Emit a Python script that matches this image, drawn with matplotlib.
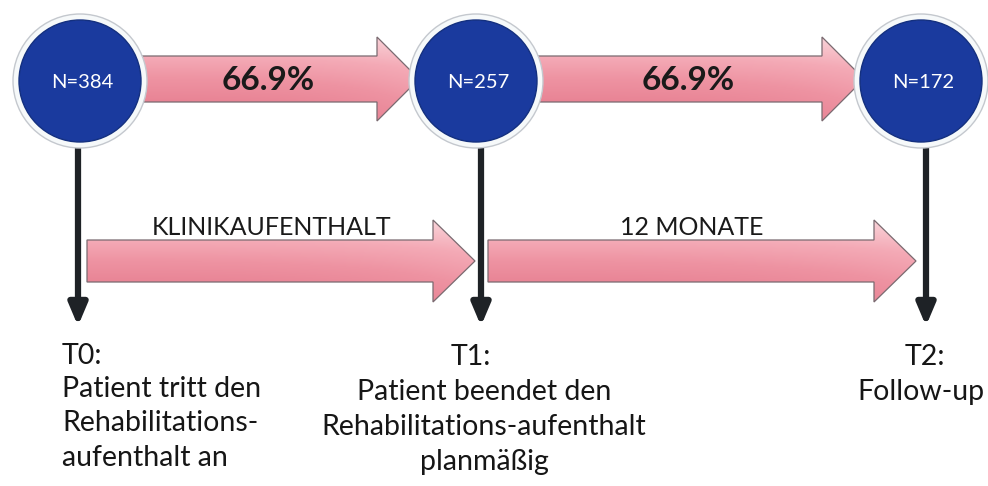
import numpy as np
import matplotlib
matplotlib.use("Agg")
import matplotlib.pyplot as plt
from matplotlib.patches import Polygon, Ellipse
from matplotlib.colors import LinearSegmentedColormap

# ---- data ----
sample_sizes = [384, 257, 172]
transition_rates = ["66.9%", "66.9%"]
phase_labels = ["KLINIKAUFENTHALT", "12 MONATE"]
time_labels = ["T0:", "T1:", "T2:"]
time_descriptions = [
    ["Patient tritt den", "Rehabilitations-", "aufenthalt an"],
    ["Patient beendet den", "Rehabilitations-aufenthalt", "planmäßig"],
    ["Follow-up"],
]

# ---- layout (pixel coordinates) ----
W, H = 988, 486
node_x = [80, 476, 921]
node_y = 81
node_r = 61

FONT = ["Lato", "DejaVu Sans"]
plt.rcParams["font.family"] = FONT

fig = plt.figure(figsize=(W / 100, H / 100), dpi=100)
ax = fig.add_axes([0, 0, 1, 1])
ax.set_xlim(0, W)
ax.set_ylim(H, 0)
ax.axis("off")

pink = LinearSegmentedColormap.from_list(
    "pink", ["#f9d3d9", "#f4aab6", "#ee93a2", "#e98596", "#dc6f80"])


def h_arrow(x0, x1, yc, shaft_half, head_half, head_len, z=2):
    pts = [(x0, yc - shaft_half), (x1 - head_len, yc - shaft_half),
           (x1 - head_len, yc - head_half), (x1, yc),
           (x1 - head_len, yc + head_half), (x1 - head_len, yc + shaft_half),
           (x0, yc + shaft_half)]
    poly = Polygon(pts, closed=True, facecolor="none", edgecolor="#7a6a70",
                   lw=0.9, zorder=z + 1)
    ax.add_patch(poly)
    grad = np.linspace(0, 1, 100).reshape(-1, 1)
    horiz = np.linspace(0, 1, 200).reshape(1, -1)
    img = grad * (1 - 0.4 * horiz ** 3)
    im = ax.imshow(img, cmap=pink, vmin=0, vmax=1, aspect="auto",
                   extent=(x0, x1, yc + head_half, yc - head_half),
                   zorder=z, interpolation="bilinear")
    clip = Polygon(pts, closed=True, transform=ax.transData)
    im.set_clip_path(clip)


# top arrows between nodes
for i, rate in enumerate(transition_rates):
    x0 = node_x[i] + node_r - 2
    x1 = node_x[i + 1] - node_r + 4
    h_arrow(x0, x1, 79, 23, 42, 42, z=2)
    ax.text((x0 + x1 - 42) / 2 + 10, 80, rate, fontsize=24, fontweight="bold",
            color="#1a1a1a", ha="center", va="center", zorder=6)

# middle arrows
mid = [(87, 475), (488, 916)]
for (x0, x1), lab, cx in zip(mid, phase_labels, [272, 692]):
    h_arrow(x0, x1, 261, 21, 41, 42, z=2)
    ax.text(cx, 227, lab, fontsize=18, color="#1a1a1a", ha="center",
            va="center", zorder=6)

# nodes
for x, n in zip(node_x, sample_sizes):
    ring = Ellipse((x, node_y), 2 * node_r + 12, 2 * node_r + 12,
                   facecolor="#f6f9fa", edgecolor="#c4c8ce", lw=1.0, zorder=7)
    ax.add_patch(ring)
    c = Ellipse((x, node_y), 2 * node_r, 2 * node_r,
                facecolor="#1a3a9e", edgecolor="#14307f", lw=1, zorder=8)
    ax.add_patch(c)
    ax.text(x + 2, node_y + 1, f"N={n}", fontsize=14.5, color="white",
            ha="center", va="center", zorder=9)

# vertical black arrows
vx = [78, 481, 926]
for x in vx:
    ax.annotate("", xy=(x, 326), xytext=(x, 148),
                arrowprops=dict(arrowstyle="-|>,head_length=1.3,head_width=0.55",
                                color="#1e2226", lw=4.5, shrinkA=0, shrinkB=0),
                zorder=5)

# bottom text
fs = 20.5
col = "#161616"
line_y = [356, 389, 423, 458]
# T0 block (left aligned)
ax.text(62, line_y[0], time_labels[0], fontsize=fs, ha="left", va="center",
        color=col)
for k, s in enumerate(time_descriptions[0]):
    ax.text(62, line_y[k + 1], s, fontsize=fs, ha="left", va="center",
            color=col)
# T1 block (centered)
ax.text(471, 357, time_labels[1], fontsize=fs, ha="center", va="center",
        color=col)
for k, s in enumerate(time_descriptions[1]):
    ax.text(484, 392 + 35 * k, s, fontsize=fs, ha="center", va="center",
            color=col)
# T2 block
ax.text(925, 357, time_labels[2], fontsize=fs, ha="center", va="center",
        color=col)
ax.text(984, 392, time_descriptions[2][0], fontsize=fs, ha="right",
        va="center", color=col)

fig.savefig("out.png", dpi=100, facecolor="white")
